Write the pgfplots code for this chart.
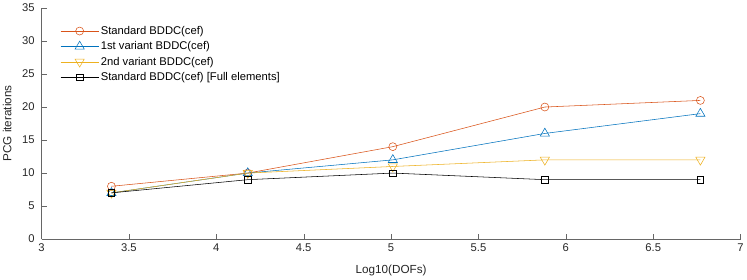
\documentclass[border=0pt]{standalone}
\usepackage{pgfplots}
\pgfplotsset{compat=1.18}
\usepackage{fontspec}
\setmainfont{Liberation Sans}
\definecolor{mo}{rgb}{0.85,0.325,0.098}
\definecolor{mb}{rgb}{0,0.447,0.741}
\definecolor{my}{rgb}{0.929,0.694,0.125}
\begin{document}
\begin{tikzpicture}
\begin{axis}[
  scale only axis, width=701.6bp, height=232bp,
  xmin=3, xmax=7, ymin=0, ymax=35,
  xtick={3,3.5,4,4.5,5,5.5,6,6.5,7},
  ytick={0,5,10,15,20,25,30,35},
  xticklabels={3,3.5,4,4.5,5,5.5,6,6.5,7},
  axis x line*=bottom, axis y line*=left,
  axis line style={draw=black!60, -},
  tick style={draw=black!60},
  tick align=inside, major tick length=5bp,
  tick label style={font=\fontsize{11.3}{13}\selectfont, text=black!85},
  yticklabel style={xshift=-3.5bp},
  xticklabel style={yshift=-1bp},
  /pgf/number format/assume math mode=true,
  xlabel={Log10(DOFs)}, ylabel={PCG iterations},
  label style={font=\fontsize{11.8}{13}\selectfont, text=black!85},
  xlabel style={yshift=-7bp},
  every axis y label/.style={at={([xshift=-30.4bp]axis description cs:0,0.5)}, rotate=90, anchor=base, inner sep=0pt, font=\fontsize{11.8}{13}\selectfont, text=black!85},
  legend style={draw=none, fill=none, at={(0.0225,0.939)}, anchor=north west,
    font=\fontsize{11.3}{13}\selectfont, row sep=1.8bp},
  legend cell align=left,
  legend image code/.code={\draw[#1] (0bp,0bp) -- (38bp,0bp); \draw[#1, only marks] plot coordinates {(19bp,0bp)};},
]
\addplot[mo, mark=o, mark size=4bp, line width=0.55pt] coordinates {(3.40,8) (4.18,10) (5.01,14) (5.88,20) (6.77,21)};
\addlegendentry{Standard BDDC(cef)}
\addplot[mb, mark=triangle, mark size=5.3bp, line width=0.55pt] coordinates {(3.40,7) (4.18,10) (5.01,12) (5.88,16) (6.77,19)};
\addlegendentry{1st variant BDDC(cef)}
\addplot[my, mark=triangle, mark options={rotate=180}, mark size=5.3bp, line width=0.55pt] coordinates {(3.40,7) (4.18,10) (5.01,11) (5.88,12) (6.77,12)};
\addlegendentry{2nd variant BDDC(cef)}
\addplot[black, mark=square, mark size=3.2bp, line width=0.55pt] coordinates {(3.40,7) (4.18,9) (5.01,10) (5.88,9) (6.77,9)};
\addlegendentry{Standard BDDC(cef) [Full elements]}
\end{axis}
\path ([xshift=-41.7bp,yshift=8bp]current axis.north west) -- ([xshift=3.7bp,yshift=-40bp]current axis.south east);
\end{tikzpicture}
\end{document}
